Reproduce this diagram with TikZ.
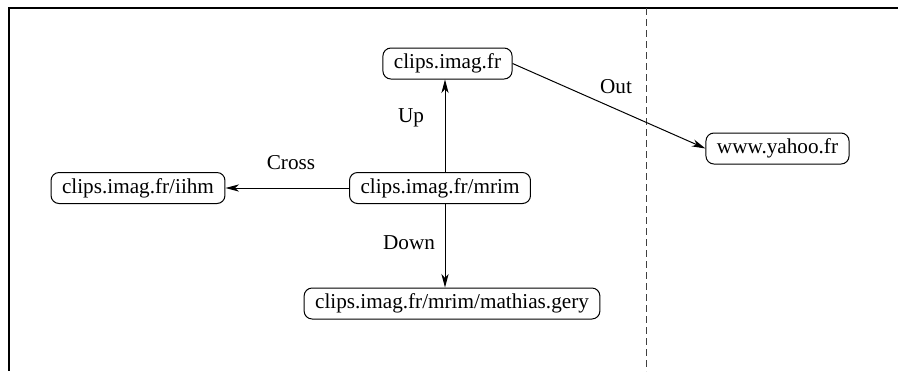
\documentclass[tikz,border=0pt]{standalone}
\usepackage{fontspec}
\setmainfont{Liberation Serif}
\usetikzlibrary{arrows.meta}
\begin{document}
\begin{tikzpicture}[x=0.5pt,y=-0.5pt,
  site/.style={draw,rounded corners=4pt,inner xsep=5.5pt,inner ysep=0pt,minimum height=15.5pt,font=\rmfamily\fontsize{10.6}{12}\selectfont,line width=0.5pt},
  lbl/.style={font=\rmfamily\fontsize{10.6}{12}\selectfont},
  link/.style={line width=0.5pt,-{Stealth[length=6.8pt,width=3.6pt,inset=2pt]}},
  frame/.style={line width=0.7pt}]
\useasboundingbox (0,0) rectangle (898,371);
\coordinate (tl) at (9,8);
\coordinate (tr) at (898,8);
\coordinate (bl) at (9,371);
\draw[frame] (tr) -- (tl) -- (bl);
\coordinate (dtop) at (646,8);
\coordinate (dbot) at (646,371);
\draw[black!75,line width=0.5pt,dash pattern=on 3.5pt off 2pt] (dtop) -- (dbot);
\node[site] (top) at (447.5,63.5) {clips.imag.fr};
\node[site] (yahoo) at (777.5,148.5) {www.yahoo.fr};
\node[site] (iihm) at (138,188) {clips.imag.fr/iihm};
\node[site] (mrim) at (440,188) {clips.imag.fr/mrim};
\node[site] (gery) at (452,303.5) {clips.imag.fr/mrim/mathias.gery};
\draw[link] (mrim.north -| 445,0) -- (top.south -| 445,0);
\draw[link] (mrim.south -| 445,0) -- (gery.north -| 445,0);
\draw[link] (mrim.west) -- (iihm.east);
\draw[link] (top.east) -- (yahoo.west);
\node[lbl] (lup) at (411,118) {Up};
\node[lbl] (lcross) at (291,163) {Cross};
\node[lbl] (ldown) at (409,243) {Down};
\node[lbl] (lout) at (616,87) {Out};
\end{tikzpicture}
\end{document}
